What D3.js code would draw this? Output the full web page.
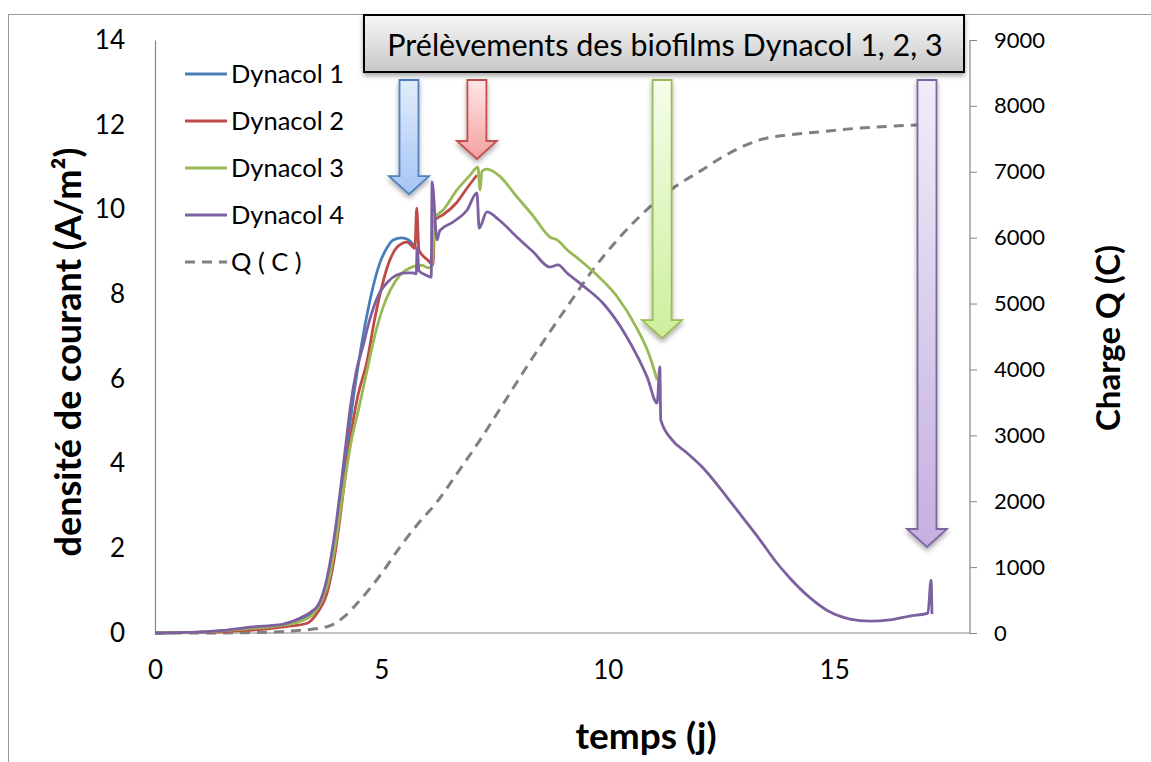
<!DOCTYPE html>
<html>
<head>
<meta charset="utf-8">
<script src="https://cdn.jsdelivr.net/npm/d3@7"></script>
<style>
    body { margin: 0; background: #fff; }
    svg { display: block; font-family: Lato, 'Open Sans', sans-serif; }
</style>
</head>
<body>
<svg id="chart" width="1151" height="762"></svg>
<script>
// current density (A/m²) vs time (days)
let dynacol1 = [[0,0],[0.5,0.01],[1,0.02],[1.5,0.05],[2,0.1],[2.5,0.14],[2.8,0.18],[3.2,0.3],[3.5,0.5],[3.7,0.85],[3.85,1.4],[4.0,2.4],[4.1,3.2],[4.2,4.0],[4.3,4.9],[4.4,5.7],[4.53,6.6],[4.68,7.5],[4.8,8.1],[4.97,8.75],[5.1,9.05],[5.26,9.28],[5.45,9.33],[5.6,9.28],[5.74,9.12]];
let dynacol2 = [[0,0],[0.5,0.01],[1,0.02],[1.5,0.03],[2,0.06],[2.5,0.1],[2.9,0.15],[3.36,0.23],[3.6,0.5],[3.8,0.94],[3.95,1.7],[4.09,2.74],[4.2,3.7],[4.3,4.5],[4.48,5.6],[4.68,6.4],[4.85,7.4],[4.97,8.0],[5.15,8.7],[5.34,9.1],[5.57,9.23],[5.74,9.08],[5.78,10.03],[5.83,9.04],[6.03,8.8],[6.14,8.69],[6.18,9.75],[6.36,9.87],[6.67,10.17],[6.89,10.5],[7.11,10.81]];
let dynacol3 = [[0,0],[0.5,0.01],[1,0.02],[1.5,0.05],[2,0.1],[2.5,0.14],[2.8,0.18],[3.2,0.27],[3.5,0.45],[3.7,0.8],[3.85,1.3],[4.0,2.2],[4.15,3.3],[4.33,4.5],[4.5,5.3],[4.7,6.28],[4.85,7.0],[5.04,7.7],[5.2,8.1],[5.41,8.45],[5.63,8.62],[5.74,8.66],[5.9,8.68],[6.03,8.62],[6.12,8.66],[6.18,9.8],[6.36,9.98],[6.67,10.46],[6.96,10.81],[7.13,11.0],[7.18,10.46],[7.22,10.9],[7.33,10.95],[7.6,10.8],[7.99,10.3],[8.35,9.85],[8.72,9.35],[8.88,9.28],[9.1,9.05],[9.39,8.8],[9.76,8.45],[10.2,7.95],[10.64,7.2],[10.93,6.52],[11.09,5.97]];
let dynacol4 = [[0,0],[0.5,0.01],[0.99,0.02],[1.5,0.06],[2.1,0.14],[2.5,0.17],[2.83,0.21],[3.2,0.35],[3.45,0.5],[3.6,0.65],[3.8,1.3],[3.92,2.0],[4.02,2.74],[4.12,3.6],[4.22,4.5],[4.31,5.3],[4.45,6.2],[4.6,6.8],[4.68,7.15],[4.8,7.6],[4.97,8.05],[5.15,8.3],[5.34,8.45],[5.55,8.5],[5.7,8.5],[5.77,8.48],[5.79,9.1],[5.83,8.55],[6.03,8.43],[6.1,8.4],[6.12,10.65],[6.23,9.28],[6.29,9.5],[6.58,9.7],[6.89,9.98],[7.11,10.39],[7.16,9.56],[7.33,9.94],[7.6,9.75],[7.99,9.35],[8.35,9.0],[8.72,8.64],[8.9,8.69],[9.1,8.5],[9.45,8.2],[9.89,7.79],[10.42,6.99],[10.87,6.04],[11.09,5.43],[11.15,6.28],[11.17,5.03],[11.42,4.56],[11.75,4.25],[12.1,3.9],[12.63,3.21],[13.0,2.7],[13.36,2.2],[13.7,1.7],[14.02,1.3],[14.47,0.83],[14.9,0.5],[15.35,0.33],[15.79,0.28],[16.23,0.31],[16.67,0.4],[17.07,0.47],[17.14,1.25],[17.16,0.45]];
// cumulated charge Q (C), right axis
let charge = [[0,0],[1,0],[2,5],[2.6,15],[3.2,40],[3.8,95],[4.2,260],[4.53,500],[5.0,900],[5.41,1305],[5.8,1650],[6.23,1990],[6.7,2450],[7.18,2930],[7.6,3380],[8.2,4030],[8.72,4569],[9.2,5050],[9.67,5510],[10.27,6011],[10.93,6466],[11.5,6780],[12.04,7010],[12.6,7250],[13.36,7484],[14.0,7560],[14.69,7605],[15.5,7660],[16.2,7690],[16.83,7711],[17.14,7715]];

let seriesNames = ['Dynacol 1', 'Dynacol 2', 'Dynacol 3', 'Dynacol 4'];
let seriesColors = ['#4a7ebb', '#be4b48', '#98b954', '#7d60a0'];
// sampling arrows: time (j) and where the tip lands (A/m²)
let arrowTimes = [5.61, 7.11, 11.2, 17.05];
let arrowTips = [10.36, 11.19, 6.96, 2.03];
let arrowStroke = ['#4f81bd', '#c0504d', '#9bbb59', '#8064a2'];
let arrowTop = ['#e2ecfb', '#ffe6e6', '#f5fdeb', '#f1ecf8'];
let arrowBottom = ['#a6c5f3', '#f5a0a0', '#cdef9c', '#c3b0df'];

let xTicks = [0, 5, 10, 15];
let yLeftTicks = [0, 2, 4, 6, 8, 10, 12, 14];
let yRightTicks = [0, 1000, 2000, 3000, 4000, 5000, 6000, 7000, 8000, 9000];
let titleText = 'Prélèvements des biofilms Dynacol 1, 2, 3';

let svg = d3.select('#chart');
let plotLeft = 155, plotRight = 970, plotTop = 40, plotBottom = 633;

let x = d3.scaleLinear().domain([0, 18]).range([plotLeft, plotRight]);
let yL = d3.scaleLinear().domain([0, 14]).range([plotBottom, plotTop]);
let yR = d3.scaleLinear().domain([0, 9000]).range([plotBottom, plotTop]);

let defs = svg.append('defs');
let shadow = defs.append('filter').attr('id', 'shadow')
    .attr('x', '-30%').attr('y', '-30%').attr('width', '160%').attr('height', '160%');
shadow.append('feDropShadow').attr('dx', 0).attr('dy', 3).attr('stdDeviation', 2.5)
    .attr('flood-color', '#000').attr('flood-opacity', 0.35);

let boxGrad = defs.append('linearGradient').attr('id', 'boxGrad')
    .attr('x1', 0).attr('y1', 0).attr('x2', 0).attr('y2', 1);
boxGrad.append('stop').attr('offset', '0%').attr('stop-color', '#f7f7f7');
boxGrad.append('stop').attr('offset', '100%').attr('stop-color', '#c8c8c8');

arrowStroke.forEach(function(c, i) {
    let g = defs.append('linearGradient').attr('id', 'arrowGrad' + i)
        .attr('x1', 0).attr('y1', 0).attr('x2', 0).attr('y2', 1);
    g.append('stop').attr('offset', '0%').attr('stop-color', arrowTop[i]);
    g.append('stop').attr('offset', '100%').attr('stop-color', arrowBottom[i]);
});

// outer chart frame
svg.append('rect')
    .attr('x', 8.5).attr('y', 14.5).attr('width', 1200).attr('height', 800)
    .attr('fill', 'none').attr('stroke', '#9a9a9a').attr('stroke-width', 1);

// axes
let axisLeft = svg.append('g').attr('transform', 'translate(' + plotLeft + ',0)')
    .call(d3.axisLeft(yL).tickValues(yLeftTicks).tickSize(0).tickPadding(30));
let axisRight = svg.append('g').attr('transform', 'translate(' + plotRight + ',0)')
    .call(d3.axisRight(yR).tickValues(yRightTicks).tickFormat(d3.format('d'))
        .tickSizeInner(7).tickSizeOuter(0).tickPadding(17));
let axisBottom = svg.append('g').attr('transform', 'translate(0,' + plotBottom + ')')
    .call(d3.axisBottom(x).tickValues(xTicks).tickSize(0).tickPadding(28));

[axisLeft, axisRight, axisBottom].forEach(function(a) {
    a.select('.domain').attr('stroke', '#868686').attr('stroke-width', 1.2);
    a.selectAll('.tick line').attr('stroke', '#868686');
    a.selectAll('text').attr('font-family', 'Lato, sans-serif').attr('fill', '#000');
});
axisLeft.selectAll('text').attr('font-size', 26);
axisBottom.selectAll('text').attr('font-size', 26);
axisRight.selectAll('text').attr('font-size', 22);
axisRight.select('.domain').attr('d', 'M0,' + plotTop + 'V' + plotBottom);
axisBottom.select('.domain').attr('d', 'M' + plotLeft + ',0H' + plotRight);

// axis titles
svg.append('text')
    .attr('transform', 'translate(81,352) rotate(-90)')
    .attr('text-anchor', 'middle').attr('font-weight', 'bold').attr('font-size', 36)
    .text('densité de courant (A/m²)');
svg.append('text')
    .attr('transform', 'translate(1120,338) rotate(-90)')
    .attr('text-anchor', 'middle').attr('font-weight', 'bold').attr('font-size', 33)
    .text('Charge Q (C)');
svg.append('text')
    .attr('x', 646).attr('y', 749)
    .attr('text-anchor', 'middle').attr('font-weight', 'bold').attr('font-size', 37)
    .text('temps (j)');

// curves
let lineL = d3.line()
    .x(function(d) { return x(d[0]); })
    .y(function(d) { return yL(d[1]); })
    .curve(d3.curveMonotoneX);
let lineR = d3.line()
    .x(function(d) { return x(d[0]); })
    .y(function(d) { return yR(d[1]); })
    .curve(d3.curveMonotoneX);

svg.append('path').datum(charge)
    .attr('d', lineR)
    .attr('fill', 'none').attr('stroke', '#808080').attr('stroke-width', 3)
    .attr('stroke-dasharray', '10,7');

[dynacol1, dynacol2, dynacol3, dynacol4].forEach(function(s, i) {
    svg.append('path').datum(s)
        .attr('d', lineL)
        .attr('fill', 'none')
        .attr('stroke', seriesColors[i])
        .attr('stroke-width', 2.8)
        .attr('stroke-linejoin', 'round');
});

// legend
let legendNames = seriesNames.concat(['Q ( C )']);
let legend = svg.append('g');
legendNames.forEach(function(n, i) {
    let yy = 74 + i * 47;
    legend.append('line')
        .attr('x1', 185).attr('x2', 227).attr('y1', yy).attr('y2', yy)
        .attr('stroke', i < 4 ? seriesColors[i] : '#808080')
        .attr('stroke-width', 3)
        .attr('stroke-dasharray', i < 4 ? null : '10,7');
    legend.append('text')
        .attr('x', 231).attr('y', yy).attr('dy', '0.35em')
        .attr('font-size', 25.5)
        .text(n);
});

// sampling arrows
let arrowTopY = 80;
arrowTimes.forEach(function(t, i) {
    let cx = x(t), tip = yL(arrowTips[i]);
    let sw = 9.5, hw = 20, hh = 18;
    let p = d3.path();
    p.moveTo(cx - sw, arrowTopY);
    p.lineTo(cx + sw, arrowTopY);
    p.lineTo(cx + sw, tip - hh);
    p.lineTo(cx + hw, tip - hh);
    p.lineTo(cx, tip);
    p.lineTo(cx - hw, tip - hh);
    p.lineTo(cx - sw, tip - hh);
    p.closePath();
    svg.append('path')
        .attr('d', p.toString())
        .attr('fill', 'url(#arrowGrad' + i + ')')
        .attr('stroke', arrowStroke[i])
        .attr('stroke-width', 1.8)
        .attr('filter', 'url(#shadow)');
});

// title box
svg.append('rect')
    .attr('x', 364).attr('y', 15).attr('width', 600).attr('height', 57)
    .attr('fill', 'url(#boxGrad)')
    .attr('stroke', '#000').attr('stroke-width', 2)
    .attr('filter', 'url(#shadow)');
svg.append('text')
    .attr('x', 665).attr('y', 45).attr('dy', '0.35em')
    .attr('text-anchor', 'middle').attr('font-size', 30.5)
    .text(titleText);
</script>
</body>
</html>
